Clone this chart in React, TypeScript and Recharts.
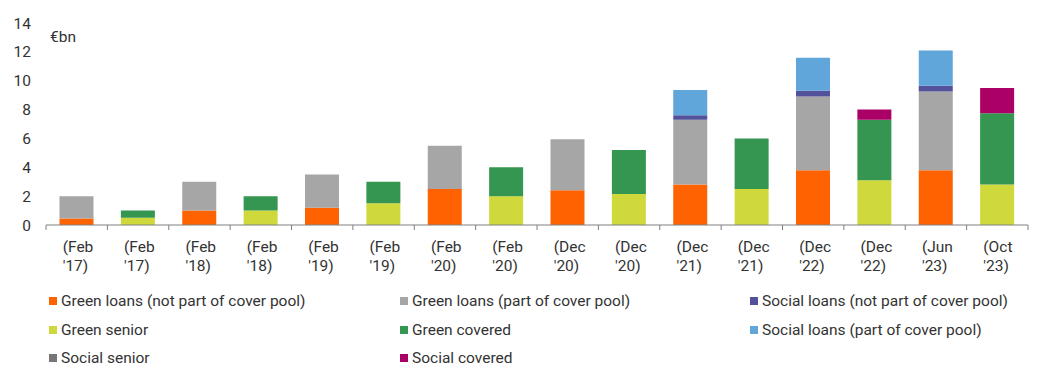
import React from "react";
import { BarChart, Bar, XAxis, YAxis } from "recharts";

const categories = [
  "(Feb '17)", "(Feb '17)", "(Feb '18)", "(Feb '18)", "(Feb '19)", "(Feb '19)",
  "(Feb '20)", "(Feb '20)", "(Dec '20)", "(Dec '20)", "(Dec '21)", "(Dec '21)",
  "(Dec '22)", "(Dec '22)", "(Jun '23)", "(Oct '23)",
];

const greenLoansNotPool = [0.45, 0, 1.0, 0, 1.2, 0, 2.5, 0, 2.4, 0, 2.8, 0, 3.8, 0, 3.8, 0];
const greenLoansPool = [1.55, 0, 2.0, 0, 2.3, 0, 3.0, 0, 3.55, 0, 4.5, 0, 5.1, 0, 5.45, 0];
const socialLoansNotPool = [0, 0, 0, 0, 0, 0, 0, 0, 0, 0, 0.3, 0, 0.4, 0, 0.4, 0];
const socialLoansPool = [0, 0, 0, 0, 0, 0, 0, 0, 0, 0, 1.75, 0, 2.3, 0, 2.45, 0];
const greenSenior = [0, 0.5, 0, 1.0, 0, 1.5, 0, 2.0, 0, 2.15, 0, 2.5, 0, 3.1, 0, 2.8];
const greenCovered = [0, 0.5, 0, 1.0, 0, 1.5, 0, 2.0, 0, 3.05, 0, 3.5, 0, 4.2, 0, 4.95];
const socialSenior = [0, 0, 0, 0, 0, 0, 0, 0, 0, 0, 0, 0, 0, 0, 0, 0];
const socialCovered = [0, 0, 0, 0, 0, 0, 0, 0, 0, 0, 0, 0, 0, 0.7, 0, 1.75];

const yTicks = [0, 2, 4, 6, 8, 10, 12, 14];
const boundaryTicks = categories.map((_, i) => i).concat(categories.length);

const series = [
  { key: "gnp", name: "Green loans (not part of cover pool)", color: "#FF6200", values: greenLoansNotPool },
  { key: "gp", name: "Green loans (part of cover pool)", color: "#A6A6A6", values: greenLoansPool },
  { key: "snp", name: "Social loans (not part of cover pool)", color: "#525199", values: socialLoansNotPool },
  { key: "gs", name: "Green senior", color: "#D0D93C", values: greenSenior },
  { key: "gc", name: "Green covered", color: "#349651", values: greenCovered },
  { key: "sp", name: "Social loans (part of cover pool)", color: "#60A6DA", values: socialLoansPool },
  { key: "ss", name: "Social senior", color: "#767676", values: socialSenior },
  { key: "sc", name: "Social covered", color: "#AB0066", values: socialCovered },
];

// stacking order, bottom to top
const stackOrder = ["gnp", "gp", "snp", "sp", "gs", "gc", "ss", "sc"];

const data = categories.map((c, i) => {
  const row: any = { cat: c, idx: i };
  series.forEach(s => { row[s.key] = s.values[i]; });
  return row;
});

const FONT = "Roboto, 'Noto Sans', sans-serif";
const TXT = "#333333";

const NoLabel = () => <g />;

const CatTick = ({ x, y, payload }: any) => {
  const [a, b] = String(payload.value).split(" ");
  return (
    <text x={x - 14} y={y} textAnchor="start" fontFamily={FONT} fontSize={15.5} fill={TXT}>
      <tspan x={x - 14} dy={13}>{a}</tspan>
      <tspan x={x - 14} dy={19}>{b}</tspan>
    </text>
  );
};

export default function App() {
  return (
    <div style={{ position: "absolute", left: 0, top: 0, width: 1051, height: 372, background: "#fff", fontFamily: FONT }}>
      <BarChart width={1051} height={285} data={data} margin={{ top: 23, right: 23, bottom: 0, left: 0 }} barCategoryGap="22%">
        <XAxis xAxisId="a_edges" dataKey="idx" type="number" domain={[0, categories.length]} ticks={boundaryTicks}
          allowDataOverflow height={6} tick={<NoLabel />} tickSize={5} stroke="#808080" />
        <XAxis xAxisId="b_cat" dataKey="cat" type="category" height={54} axisLine={false} tickLine={false}
          interval={0} tick={<CatTick />} />
        <YAxis domain={[0, 14]} ticks={yTicks} width={46} axisLine={false} tickLine={false} tickSize={0}
          tickMargin={15} tick={{ fontSize: 15.5, fill: TXT, fontFamily: FONT }} />
        {stackOrder.map(k => {
          const s = series.find(q => q.key === k)!;
          return <Bar key={k} xAxisId="b_cat" dataKey={k} name={s.name} stackId="a" fill={s.color} isAnimationActive={false} />;
        })}
      </BarChart>
      <div style={{ position: "absolute", left: 50, top: 28, fontSize: 15.5, color: TXT }}>€bn</div>
      <div style={{ position: "absolute", left: 49, top: 291, display: "grid", gridTemplateColumns: "351px 350px 300px", rowGap: 8.5 }}>
        {series.map(s => (
          <div key={s.key} style={{ display: "flex", alignItems: "center", height: 20, fontSize: 15.5, color: TXT, whiteSpace: "nowrap" }}>
            <span style={{ display: "inline-block", width: 8, height: 8, background: s.color, marginRight: 4 }} />
            {s.name}
          </div>
        ))}
      </div>
    </div>
  );
}
